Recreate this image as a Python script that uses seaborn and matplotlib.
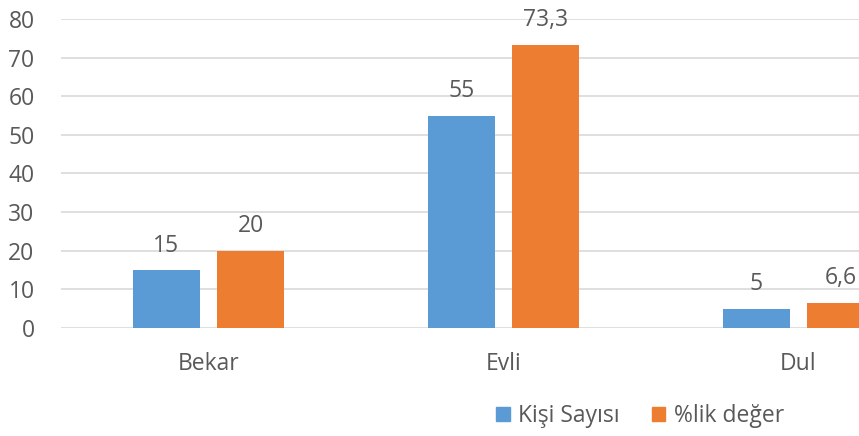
import pandas as pd
import matplotlib.pyplot as plt
import seaborn as sns

# ---- data -------------------------------------------------------------
categories = ["Bekar", "Evli", "Dul"]
series = ["Kişi Sayısı", "%lik değer"]
kisi_sayisi = [15, 55, 5]
yuzde = [20, 73.3, 6.6]
value_labels = [["15", "55", "5"], ["20", "73,3", "6,6"]]
colors = ["#5B9BD5", "#ED7D31"]

df = pd.DataFrame({
    "kategori": categories * 2,
    "seri": [series[0]] * 3 + [series[1]] * 3,
    "deger": kisi_sayisi + yuzde,
})

sns.set_style("white")
plt.rcParams["font.family"] = ["Open Sans", "DejaVu Sans"]
text_col = "#595959"
fs = 16.5

fig = plt.figure(figsize=(8.59, 4.36), dpi=100)
# plot area runs past the right edge, as in the original (cropped) chart
ax = fig.add_axes([61 / 859, 108 / 436, 885 / 859, 309 / 436])

sns.barplot(data=df, x="kategori", y="deger", hue="seri",
            palette=colors, saturation=1, width=0.57, gap=0.21,
            linewidth=0, ax=ax, legend=False)

ax.set_ylim(0, 80)
ax.set_yticks(range(0, 81, 10))
ax.set_xlim(-0.5, 2.5)
ax.yaxis.grid(True, color="#d9d9d9", linewidth=1.2)
ax.set_axisbelow(True)
for s in ax.spines.values():
    s.set_visible(False)
ax.set_xlabel("")
ax.set_ylabel("")
ax.tick_params(axis="y", labelsize=fs, labelcolor=text_col, length=0, pad=19)
ax.tick_params(axis="x", labelsize=fs, labelcolor=text_col, length=0, pad=17)

for cont, labels in zip(ax.containers, value_labels):
    ax.bar_label(cont, labels=labels, padding=9, fontsize=fs, color=text_col)

handles = [plt.Rectangle((0, 0), 1, 1, color=c) for c in colors]
fig.legend(handles, series, loc="center", bbox_to_anchor=(640 / 859, 1 - 416 / 436),
           ncol=2, frameon=False, fontsize=fs, labelcolor=text_col,
           handlelength=0.6, handleheight=0.6, handletextpad=0.35,
           columnspacing=1.4)

fig.savefig("out.png", dpi=100)
